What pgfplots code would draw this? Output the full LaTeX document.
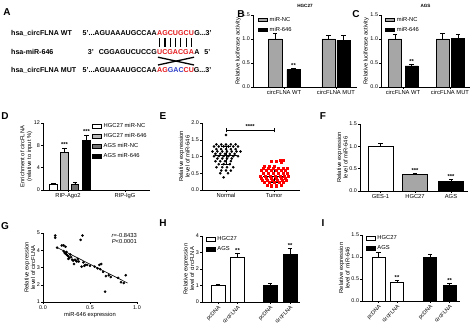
\documentclass[border=0pt]{standalone}
\usepackage{fontspec}
\setmainfont{Liberation Sans}
\usepackage{pgfplots}
\pgfplotsset{compat=1.18}
\usetikzlibrary{calc}
\definecolor{myred}{HTML}{E3191C}
\definecolor{myblue}{HTML}{2E3FC8}
\definecolor{ncgray}{HTML}{A6A6A6}
\definecolor{ltgray}{HTML}{B8B8B8}
\definecolor{dkgray}{HTML}{707070}
\newcommand{\tf}{\fontsize{5.8}{6.6}\selectfont}
\newcommand{\nf}{\fontsize{5.4}{6.4}\selectfont}
\newcommand{\sq}{\fontsize{7.1}{8}\selectfont\bfseries}
\pgfplotsset{
  gp/.style={scale only axis, anchor=south west, axis lines*=left,
    axis line style={-, line width=0.6pt}, tick align=outside, major tick length=1.8pt,
    tick style={line width=0.5pt, black}, tick label style={font=\tf},
    yticklabel style={font=\nf, inner sep=1pt}, xticklabel style={inner sep=1.5pt},
    label style={font=\tf}, /pgf/number format/assume math mode=true, clip=false,
    ylabel style={align=center, inner sep=1pt}, ylabel shift=-0.5pt,
    title style={font=\fontsize{4.6}{5.5}\selectfont\bfseries, yshift=-2.5pt},
    legend style={draw=none, fill=none, font=\tf, inner sep=0pt, outer sep=0pt, row sep=0.2pt, cells={anchor=west}},
    legend image code/.code={\draw[##1,line width=0.5pt] (0pt,-1.8pt) rectangle (9pt,1.8pt);}},
  dec1/.style={yticklabel style={/pgf/number format/.cd, fixed, fixed zerofill, precision=1}},
  bb/.style={ybar, bar width=#1, draw=black, line width=0.5pt, forget plot,
    error bars/y dir=plus, error bars/y explicit,
    error bars/error bar style={line width=0.5pt, black},
    error bars/error mark options={rotate=90, mark size=2.2pt, line width=0.5pt, black}},
}
\begin{document}
\begin{tikzpicture}
\useasboundingbox (0,0) rectangle (474pt,-326pt);
% panel letters
\foreach \L/\x/\y in {A/7/12, B/241/14, C/356/14, D/5/116, E/163/116, F/323/116, G/5/226, H/163/223, I/323/223}
  \node[font=\fontsize{10}{12}\selectfont\bfseries] at (\x pt,-\y pt) {\L};
% panel A
\node[anchor=base west, inner sep=0pt, font=\sq] at (11pt,-35.6pt) {hsa\_circFLNA WT};
\node[anchor=base west, inner sep=0pt, font=\sq] at (11pt,-54.6pt) {hsa-miR-646};
\node[anchor=base west, inner sep=0pt, font=\sq] at (11pt,-72.6pt) {hsa\_circFLNA MUT};
\node[anchor=base east, inner sep=0pt, font=\sq] at (157pt,-35.6pt) {5'...AGUAAAUGCCAA};
\node[anchor=base west, inner sep=0pt, font=\sq] (r1) at (157pt,-35.6pt) {\textcolor{myred}{AGCUGCU}};
\node[anchor=base west, inner sep=0pt, font=\sq] at (r1.base east) {G...3'};
\node[anchor=base east, inner sep=0pt, font=\sq] at (157pt,-54.6pt) {3'\hspace{5pt}CGGAGUCUCCG};
\node[anchor=base west, inner sep=0pt, font=\sq] (r2) at (157pt,-54.6pt) {\textcolor{myred}{UCGACGA}};
\node[anchor=base west, inner sep=0pt, font=\sq] at (r2.base east) {A\hspace{5pt}5'};
\node[anchor=base east, inner sep=0pt, font=\sq] at (157pt,-72.6pt) {5'...AGUAAAUGCCAA};
\node[anchor=base west, inner sep=0pt, font=\sq] (r3) at (157pt,-72.6pt) {\textcolor{myred}{AG}\textcolor{myblue}{GAC}\textcolor{myred}{CU}G...3'};
\foreach \i in {0,...,6}
  \draw[line width=1.2pt] ($(r1.base west)!{(\i+0.5)/7}!(r1.base east)+(0,-2.4pt)$) -- ++(0,-9pt);
\draw[line width=1.3pt] ($(r2.base west)+(1pt,-2.6pt)$) -- ($(r2.base east)+(0,-10.4pt)$);
\draw[line width=1.3pt] ($(r2.base west)+(1pt,-10.4pt)$) -- ($(r2.base east)+(0,-2.6pt)$);

% B
\begin{axis}[gp, dec1, at={(253pt,-87pt)}, width=104pt, height=72pt, xmin=0, xmax=104, ymin=0, ymax=1.5,
  ytick={0,0.5,1,1.5}, xtick={31,83}, xticklabels={circFLNA WT, circFLNA MUT},
  ylabel={Relative luciferase activity}, title={HGC27},
  legend style={at={(axis description cs:0.05,1.0)}, anchor=north west}]
\addlegendimage{fill=ncgray}\addlegendentry{miR-NC}
\addlegendimage{fill=black}\addlegendentry{miR-646}
\addplot[bb=13.5pt, fill=ncgray] coordinates {(22,1.0) +- (0,0.12) (75.5,1.0) +- (0,0.08)};
\addplot[bb=13.5pt, fill=black] coordinates {(40.5,0.36) +- (0,0.03) (90.5,0.97) +- (0,0.10)};
\node[font=\tf\bfseries] at (axis cs:40.5,0.45) {**};
\end{axis}
% C
\begin{axis}[gp, dec1, at={(381pt,-87pt)}, width=89pt, height=72pt, xmin=0, xmax=89, ymin=0, ymax=1.5,
  ytick={0,0.5,1,1.5}, xtick={22,69}, xticklabels={circFLNA WT, circFLNA MUT},
  ylabel={Relative luciferase activity}, title={AGS},
  legend style={at={(axis description cs:0.05,1.0)}, anchor=north west}]
\addlegendimage{fill=ncgray}\addlegendentry{miR-NC}
\addlegendimage{fill=black}\addlegendentry{miR-646}
\addplot[bb=13pt, fill=ncgray] coordinates {(14,1.0) +- (0,0.09) (61.5,1.0) +- (0,0.11)};
\addplot[bb=13pt, fill=black] coordinates {(30.5,0.44) +- (0,0.04) (77,1.02) +- (0,0.08)};
\node[font=\tf\bfseries] at (axis cs:30.5,0.54) {**};
\end{axis}
% D
\begin{axis}[gp, at={(43pt,-190pt)}, width=107pt, height=67pt, xmin=0, xmax=107, ymin=0, ymax=12,
  ytick={0,4,8,12}, xtick={25,82}, xticklabels={RIP-Ago2, RIP-IgG},
  ylabel={Enrichment of circFLNA\\(relative to input \%)},
  legend style={at={(axis description cs:0.46,1.02)}, anchor=north west}]
\addlegendimage{fill=white}\addlegendentry{HGC27 miR-NC}
\addlegendimage{fill=ltgray}\addlegendentry{HGC27 miR-646}
\addlegendimage{fill=dkgray}\addlegendentry{AGS miR-NC}
\addlegendimage{fill=black}\addlegendentry{AGS miR-646}
\addplot[bb=7.5pt, fill=white] coordinates {(10.5,1.0) +- (0,0.2)};
\addplot[bb=7.5pt, fill=ltgray] coordinates {(21.5,6.8) +- (0,0.7)};
\addplot[bb=7.5pt, fill=dkgray] coordinates {(32,1.0) +- (0,0.4)};
\addplot[bb=7.5pt, fill=black] coordinates {(43.5,8.9) +- (0,0.9)};
\node[font=\tf\bfseries] at (axis cs:21.5,8.2) {***};
\node[font=\tf\bfseries] at (axis cs:43.5,10.5) {***};
\end{axis}
% E
\begin{axis}[gp, dec1, at={(202pt,-190pt)}, width=98pt, height=67pt, xmin=0.5, xmax=2.54, ymin=0, ymax=2,
  ytick={0,0.5,1,1.5,2}, xtick={1,2}, xticklabels={Normal,Tumor},
  ylabel={Relative expression\\level of miR-646}]
\addplot[only marks, mark=*, mark size=1.1pt, black] coordinates {
(1.00,1.64)
(0.80,1.36)(0.90,1.36)(1.00,1.36)(1.10,1.36)(1.20,1.36)
(0.75,1.30)(0.85,1.30)(0.95,1.30)(1.05,1.30)(1.15,1.30)(1.25,1.30)
(0.80,1.22)(0.90,1.22)(1.00,1.22)(1.10,1.22)(1.20,1.22)
(0.72,1.15)(0.82,1.15)(0.92,1.15)(1.02,1.15)(1.12,1.15)(1.22,1.15)(1.30,1.15)
(0.78,1.08)(0.88,1.08)(0.98,1.08)(1.08,1.08)(1.18,1.08)
(0.75,1.01)(0.85,1.01)(0.95,1.01)(1.05,1.01)(1.15,1.01)(1.25,1.01)
(0.82,0.94)(0.92,0.94)(1.02,0.94)(1.12,0.94)
(0.78,0.86)(0.88,0.86)(0.98,0.86)(1.10,0.86)
(0.85,0.77)(0.95,0.77)(1.08,0.77)
(0.80,0.68)(0.92,0.68)(1.02,0.68)(1.15,0.68)
(0.90,0.58)(1.00,0.58)(1.10,0.58)
(0.88,0.50)(1.04,0.50)
(0.95,0.38)};
\addplot[only marks, mark=square*, mark size=1.0pt, red] coordinates {
(2.12,0.90)(2.20,0.90)
(1.95,0.86)(2.05,0.86)
(2.15,0.82)
(1.80,0.72)(1.90,0.72)(2.00,0.72)
(1.78,0.66)(1.88,0.66)(1.98,0.66)(2.08,0.66)(2.18,0.66)(2.28,0.66)
(1.74,0.58)(1.84,0.58)(1.94,0.58)(2.04,0.58)(2.14,0.58)(2.24,0.58)
(1.78,0.50)(1.88,0.50)(1.98,0.50)(2.08,0.50)(2.18,0.50)(2.28,0.50)
(1.72,0.42)(1.82,0.42)(1.92,0.42)(2.02,0.42)(2.12,0.42)(2.22,0.42)(2.30,0.42)
(1.74,0.34)(1.84,0.34)(1.94,0.34)(2.04,0.34)(2.14,0.34)(2.24,0.34)
(1.76,0.28)(1.86,0.28)(1.96,0.28)(2.06,0.28)(2.16,0.28)(2.26,0.28)
(1.80,0.22)(1.90,0.22)(2.00,0.22)(2.10,0.22)(2.20,0.22)
(1.85,0.15)(1.95,0.15)(2.05,0.15)(2.15,0.15)
(1.95,0.10)(2.05,0.10)};
\addplot[black, line width=0.5pt] coordinates {(0.78,1.05) (1.22,1.05)};
\addplot[black, line width=0.5pt] coordinates {(0.9,1.32) (1.1,1.32)};
\addplot[black, line width=0.5pt] coordinates {(0.9,0.78) (1.1,0.78)};
\addplot[black, line width=0.5pt] coordinates {(1,0.78) (1,1.32)};
\addplot[black, line width=0.5pt] coordinates {(1.78,0.42) (2.22,0.42)};
\addplot[black, line width=0.5pt] coordinates {(1.9,0.62) (2.1,0.62)};
\addplot[black, line width=0.5pt] coordinates {(1.9,0.22) (2.1,0.22)};
\addplot[black, line width=0.5pt] coordinates {(2,0.22) (2,0.62)};
\draw[line width=0.6pt] (axis cs:1,1.79) -- (axis cs:2,1.79);
\draw[line width=0.6pt] (axis cs:1,1.72) -- (axis cs:1,1.86);
\draw[line width=0.6pt] (axis cs:2,1.72) -- (axis cs:2,1.86);
\node[font=\tf\bfseries] at (axis cs:1.5,1.9) {****};
\end{axis}
% F
\begin{axis}[gp, dec1, at={(360pt,-191pt)}, width=108pt, height=67pt, xmin=0, xmax=108, ymin=0, ymax=1.5,
  ytick={0,0.5,1,1.5}, xtick={20.5,55,91}, xticklabels={GES-1,HGC27,AGS},
  ylabel={Relative expression\\level of miR-646}]
\addplot[bb=25pt, fill=white] coordinates {(20.5,1.0) +- (0,0.08)};
\addplot[bb=25pt, fill=ncgray] coordinates {(55,0.37) +- (0,0.03)};
\addplot[bb=25pt, fill=black] coordinates {(91,0.22) +- (0,0.04)};
\node[font=\tf\bfseries] at (axis cs:55,0.47) {***};
\node[font=\tf\bfseries] at (axis cs:91,0.33) {***};
\end{axis}
% G
\begin{axis}[gp, at={(43pt,-302pt)}, width=94pt, height=69pt, xmin=0, xmax=1, ymin=1, ymax=5,
  xtick={0,0.5,1}, ytick={1,2,3,4,5},
  xticklabel style={font=\nf, /pgf/number format/.cd, fixed, fixed zerofill, precision=1},
  xlabel={miR-646 expression}, xlabel style={inner sep=1pt},
  ylabel={Relative expression\\level of circFLNA}]
\addplot[only marks, mark=*, mark size=1.1pt, black] coordinates {
(0.13,4.85)(0.13,4.72)(0.15,4.15)(0.2,4.28)(0.22,4.28)(0.24,4.2)(0.22,3.95)(0.23,3.85)
(0.24,3.8)(0.25,3.75)(0.25,3.9)(0.26,3.7)(0.27,3.65)(0.28,3.55)(0.27,3.5)(0.29,3.75)
(0.3,3.6)(0.31,3.45)(0.32,3.4)(0.33,3.2)(0.34,3.45)(0.35,3.4)(0.36,3.35)(0.37,3.5)
(0.38,3.35)(0.4,4.6)(0.42,4.85)(0.41,3.05)(0.43,3.3)(0.44,3.1)(0.45,3.15)(0.47,3.15)
(0.5,3.1)(0.55,3.05)(0.58,2.95)(0.6,3.15)(0.62,3.2)(0.61,2.9)(0.64,2.75)(0.66,1.6)
(0.67,2.5)(0.7,2.55)(0.72,2.45)(0.8,2.4)(0.83,2.15)(0.86,2.1)(0.88,2.55)};
\addplot[black, line width=0.6pt] coordinates {(0.145,4.17) (0.9,2.1)};
\node[anchor=north east, align=right, font=\tf, inner sep=0pt] at (axis description cs:1,1.0) {\textit{r}=-0.8433\\\textit{P}<0.0001};
\end{axis}
% H
\begin{axis}[gp, at={(202pt,-302pt)}, width=98pt, height=66pt, xmin=0, xmax=98, ymin=0, ymax=4,
  ytick={0,1,2,3,4}, xtick={16,35.5,68,88}, xticklabels={pcDNA,circFLNA,pcDNA,circFLNA},
  xticklabel style={rotate=45, anchor=north east, inner sep=1pt, font=\nf},
  ylabel={Relative expression\\level of circFLNA},
  legend style={at={(axis description cs:0.04,1.02)}, anchor=north west}]
\addlegendimage{fill=white}\addlegendentry{HGC27}
\addlegendimage{fill=black}\addlegendentry{AGS}
\addplot[bb=14pt, fill=white] coordinates {(16,1.0) +- (0,0.08) (35.5,2.7) +- (0,0.28)};
\addplot[bb=14pt, fill=black] coordinates {(68,1.0) +- (0,0.15) (88,2.9) +- (0,0.35)};
\node[font=\tf\bfseries] at (axis cs:35.5,3.15) {**};
\node[font=\tf\bfseries] at (axis cs:88,3.43) {**};
\end{axis}
% I
\begin{axis}[gp, dec1, at={(362pt,-301pt)}, width=98pt, height=66pt, xmin=0, xmax=98, ymin=0, ymax=1.5,
  ytick={0,0.5,1,1.5}, xtick={16.5,35,68,87.5}, xticklabels={pcDNA,circFLNA,pcDNA,circFLNA},
  xticklabel style={rotate=45, anchor=north east, inner sep=1pt, font=\nf},
  ylabel={Relative expression\\level of miR-646},
  legend style={at={(axis description cs:0.04,1.02)}, anchor=north west}]
\addlegendimage{fill=white}\addlegendentry{HGC27}
\addlegendimage{fill=black}\addlegendentry{AGS}
\addplot[bb=13pt, fill=white] coordinates {(16.5,1.0) +- (0,0.1) (35,0.43) +- (0,0.04)};
\addplot[bb=13pt, fill=black] coordinates {(68,1.0) +- (0,0.07) (87.5,0.36) +- (0,0.04)};
\node[font=\tf\bfseries] at (axis cs:35,0.53) {**};
\node[font=\tf\bfseries] at (axis cs:87.5,0.46) {**};
\end{axis}
\end{tikzpicture}
\end{document}
